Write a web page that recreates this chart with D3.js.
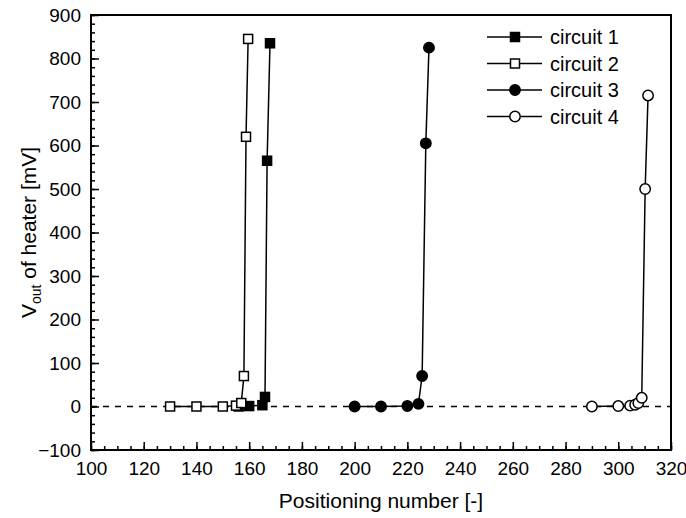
<!DOCTYPE html>
<html>
<head>
<meta charset="utf-8">
<script src="https://cdn.jsdelivr.net/npm/d3@7"></script>
<style>
  body { margin: 0; background: #fff; }
  svg { font-family: "Liberation Sans", Arial, sans-serif; }
</style>
</head>
<body>
<svg id="chart" width="686" height="518"></svg>
<script>
// values
var xTicks = [100, 120, 140, 160, 180, 200, 220, 240, 260, 280, 300, 320]
var yTicks = [-100, 0, 100, 200, 300, 400, 500, 600, 700, 800, 900]

var circuit1 = [[156, 0], [160, 1], [165, 3], [166, 22], [166.8, 565], [167.9, 835]]
var circuit2 = [[130, 0], [140, 0], [150, 0], [155, 2], [157, 8], [158, 70], [158.8, 620], [159.6, 845]]
var circuit3 = [[200, 0], [210, 0], [220, 1], [224.2, 6], [225.6, 70], [227, 605], [228.2, 825]]
var circuit4 = [[290, 0], [300, 1], [304.5, 2], [306.4, 4], [307.6, 8], [308.9, 20], [310.2, 500], [311.3, 715]]

var seriesNames = ['circuit 1', 'circuit 2', 'circuit 3', 'circuit 4']

var series = [
  { name: seriesNames[0], data: circuit1, shape: 'square', filled: true },
  { name: seriesNames[1], data: circuit2, shape: 'square', filled: false },
  { name: seriesNames[2], data: circuit3, shape: 'circle', filled: true },
  { name: seriesNames[3], data: circuit4, shape: 'circle', filled: false }
]

var margin = { left: 91, right: 15, top: 15, bottom: 68 }
var W = 686, H = 518
var svg = d3.select('#chart')

var x = d3.scaleLinear().domain([100, 320]).range([margin.left, W - margin.right])
var y = d3.scaleLinear().domain([-100, 900]).range([H - margin.bottom, margin.top])

// frame
svg.append('rect')
  .attr('x', x(100)).attr('y', y(900))
  .attr('width', x(320) - x(100)).attr('height', y(-100) - y(900))
  .attr('fill', 'none').attr('stroke', '#000').attr('stroke-width', 2)

// x axis, ticks inward
var xAxis = svg.append('g').attr('transform', 'translate(0,' + y(-100) + ')')
  .call(d3.axisBottom(x).tickValues(xTicks).tickSize(-8).tickPadding(12).tickFormat(d3.format('d')))
xAxis.append('g').call(d3.axisBottom(x).tickValues(d3.range(100, 321, 5)).tickSize(-4).tickFormat(''))

var yAxis = svg.append('g').attr('transform', 'translate(' + x(100) + ',0)')
  .call(d3.axisLeft(y).tickValues(yTicks).tickSize(-8).tickPadding(10).tickFormat(d3.format('d')))
yAxis.append('g').call(d3.axisLeft(y).tickValues(d3.range(-100, 901, 20)).tickSize(-4).tickFormat(''))

svg.selectAll('.domain').remove()
svg.selectAll('.tick line').attr('stroke', '#000').attr('stroke-width', 1.5)
svg.selectAll('.tick text').attr('font-size', 19).attr('fill', '#000')
  .attr('font-family', '"Liberation Sans", Arial, sans-serif')

// zero reference line
svg.append('line')
  .attr('x1', x(100)).attr('x2', x(320)).attr('y1', y(0)).attr('y2', y(0))
  .attr('stroke', '#000').attr('stroke-width', 1.3).attr('stroke-dasharray', '6,6')

var line = d3.line().x(function (d) { return x(d[0]) }).y(function (d) { return y(d[1]) })

function drawMarker (g, s, cx, cy) {
  var fill = s.filled ? '#000' : '#fff'
  if (s.shape === 'square') {
    g.append('rect').attr('x', cx - 4.5).attr('y', cy - 4.5).attr('width', 9).attr('height', 9)
      .attr('fill', fill).attr('stroke', '#000').attr('stroke-width', 1.5)
  } else {
    g.append('circle').attr('cx', cx).attr('cy', cy).attr('r', 5.2)
      .attr('fill', fill).attr('stroke', '#000').attr('stroke-width', 1.5)
  }
}

series.forEach(function (s) {
  var g = svg.append('g')
  g.append('path').datum(s.data).attr('d', line)
    .attr('fill', 'none').attr('stroke', '#000').attr('stroke-width', 1.5)
  s.data.forEach(function (d) { drawMarker(g, s, x(d[0]), y(d[1])) })
})

// legend
var legend = svg.append('g')
series.forEach(function (s, i) {
  var ly = 37 + i * 26.5
  legend.append('line').attr('x1', 487).attr('x2', 542).attr('y1', ly).attr('y2', ly)
    .attr('stroke', '#000').attr('stroke-width', 1.5)
  drawMarker(legend, s, 515, ly)
  legend.append('text').attr('x', 550).attr('y', ly + 7).attr('font-size', 20).text(s.name)
})

// axis titles
svg.append('text').attr('x', (x(100) + x(320)) / 2).attr('y', 508)
  .attr('text-anchor', 'middle').attr('font-size', 21).text('Positioning number [-]')

var yt = svg.append('text').attr('transform', 'translate(36,' + y(400) + ') rotate(-90)')
  .attr('text-anchor', 'middle').attr('font-size', 21)
yt.append('tspan').text('V')
yt.append('tspan').attr('font-size', 14).attr('dy', 5).text('out')
yt.append('tspan').attr('dy', -5).text(' of heater [mV]')
</script>
</body>
</html>
